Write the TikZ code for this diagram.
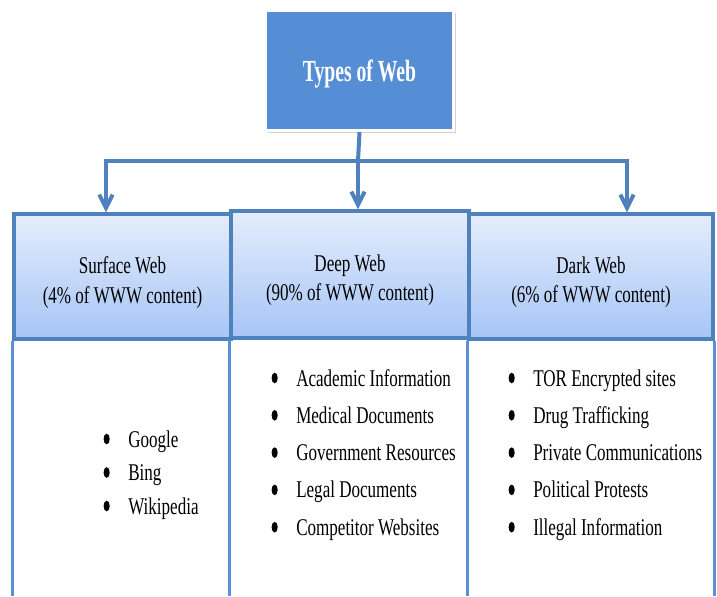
\documentclass[tikz,border=0pt]{standalone}
\usepackage{fontspec}
\setmainfont[FakeStretch=0.71]{Liberation Serif}
\newfontfamily\titlefont[FakeStretch=0.64]{Liberation Serif}
\usetikzlibrary{arrows.meta,shadows}

\definecolor{titleblue}{RGB}{85,142,213}
\definecolor{linkblue}{RGB}{79,129,189}
\definecolor{hdrtop}{RGB}{228,237,252}
\definecolor{hdrbot}{RGB}{166,197,246}
\definecolor{bodyblue}{RGB}{91,143,214}

\begin{document}
\begin{tikzpicture}[x=0.75pt,y=-0.75pt,
  titlebox/.style={fill=titleblue, draw=white, line width=2.5pt,
    minimum width=188*0.75pt, minimum height=120*0.75pt, inner sep=0pt,
    drop shadow={opacity=0.35, shadow xshift=1.5pt, shadow yshift=-2pt}},
  titletext/.style={text=white, inner sep=0pt, font=\titlefont\fontsize{23}{27}\selectfont\bfseries},
  hdr/.style={draw=linkblue, line width=2.4pt, top color=hdrtop, bottom color=hdrbot, inner sep=0pt},
  hdrtext/.style={align=center, inner sep=0pt, font=\fontsize{18}{22}\selectfont},
  conn/.style={draw=linkblue, line width=3pt},
  arrow/.style={conn, -{Straight Barb[length=10pt,width=10pt]}},
  bodyline/.style={draw=bodyblue, line width=2.3pt},
  item/.style={anchor=base west, inner sep=0pt, font=\fontsize{18}{22}\selectfont},
  dot/.style={fill=black}]

  \useasboundingbox (0,0) rectangle (717,596);

  % title box
  \node[titlebox] (title) at (359.5,70.5) {};
  \node[titletext] (titleText) at ([yshift=-3pt]title.center) {Types of Web};

  % column headers
  \node[hdr, minimum width=217*0.75pt, minimum height=125*0.75pt] (surface) at (122.5,276.5) {};
  \node[hdr, minimum width=244*0.75pt, minimum height=125*0.75pt] (dark) at (591,276.5) {};
  \node[hdr, minimum width=238*0.75pt, minimum height=127*0.75pt] (deep) at (350,274.5) {};
  \node[hdrtext] (surfaceText) at ([yshift=-4.5pt]surface.center) {Surface Web\\(4\% of WWW content)};
  \node[hdrtext] (deepText) at ([yshift=-4.5pt]deep.center) {Deep Web\\(90\% of WWW content)};
  \node[hdrtext] (darkText) at ([yshift=-4.5pt]dark.center) {Dark Web\\(6\% of WWW content)};

  % connectors from the title to each header
  \coordinate (hub) at (358,161);
  \draw[conn] (title.south) -- (hub);
  \draw[arrow] (hub) -| ([xshift=-12.4pt]surface.north);
  \draw[arrow] (hub) -- (hub |- deep.north);
  \draw[arrow] (hub) -| ([xshift=27pt]dark.north);

  % column bodies
  \coordinate (floor) at (0,596);
  \draw[bodyline] (surface.south west) -- (surface.south west |- floor);
  \draw[bodyline] (deep.south west) -- (deep.south west |- floor);
  \draw[bodyline] (dark.south west) -- (dark.south west |- floor);
  \draw[bodyline] (dark.south east) -- (dark.south east |- floor);

  % bullet lists: item text, with a dot to its left
  \foreach \t [count=\i] in {Google, Bing, Wikipedia} {
    \node[item] (s\i) at (128,{447+33.5*(\i-1)}) {\t};
    \fill[dot] ([xshift=-16pt,yshift=6pt]s\i.base west) ellipse (2.3pt and 4pt);
  }
  \foreach \t [count=\i] in {Academic Information, Medical Documents,
      Government Resources, Legal Documents, Competitor Websites} {
    \node[item] (d\i) at (296,{386+37.3*(\i-1)}) {\t};
    \fill[dot] ([xshift=-16pt,yshift=6pt]d\i.base west) ellipse (2.3pt and 4pt);
  }
  \foreach \t [count=\i] in {TOR Encrypted sites, Drug Trafficking,
      Private Communications, Political Protests, Illegal Information} {
    \node[item] (k\i) at (533,{386+37.3*(\i-1)}) {\t};
    \fill[dot] ([xshift=-16pt,yshift=6pt]k\i.base west) ellipse (2.3pt and 4pt);
  }
\end{tikzpicture}
\end{document}
